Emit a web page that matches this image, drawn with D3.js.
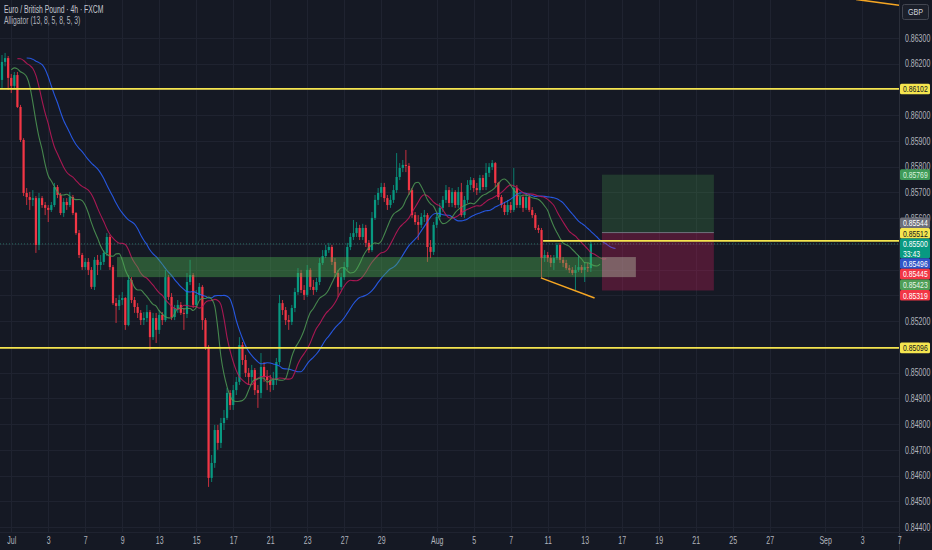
<!DOCTYPE html>
<html>
<head>
<meta charset="utf-8">
<script src="https://cdn.jsdelivr.net/npm/d3@7"></script>
<style>
  body { margin: 0; background: #151924; overflow: hidden; }
  text { font-family: "Liberation Sans", Arial, sans-serif; }
</style>
</head>
<body>
<script>
// EUR/GBP 4h candles, bar 0 = last bars of Jun 30; open of bar n = close of bar n-1
var firstOpen = 0.86137;
var closes = [
  0.86207, 0.86222, 0.86145, 0.86114, 0.86156, 0.86032, 0.85904, 0.85698, 0.85682, 0.85671,
  0.85678, 0.85496, 0.85678, 0.85651, 0.85640, 0.85632, 0.85651, 0.85721, 0.85690, 0.85620,
  0.85663, 0.85651, 0.85682, 0.85620, 0.85542, 0.85457, 0.85410, 0.85430, 0.85399, 0.85333,
  0.85438, 0.85418, 0.85430, 0.85465, 0.85527, 0.85410, 0.85270, 0.85259, 0.85282, 0.85290,
  0.85185, 0.85360, 0.85282, 0.85255, 0.85232, 0.85204, 0.85212, 0.85235, 0.85138, 0.85212,
  0.85166, 0.85224, 0.85204, 0.85371, 0.85294, 0.85216, 0.85251, 0.85263, 0.85232, 0.85228,
  0.85352, 0.85379, 0.85263, 0.85302, 0.85333, 0.85204, 0.85100, 0.84591, 0.84649, 0.84777,
  0.84727, 0.84804, 0.84824, 0.84921, 0.84874, 0.84932, 0.84964, 0.85107, 0.85049, 0.84999,
  0.84983, 0.85010, 0.84932, 0.84921, 0.85022, 0.84983, 0.84971, 0.84952, 0.84971, 0.85041,
  0.85270, 0.85243, 0.85204, 0.85197, 0.85251, 0.85313, 0.85387, 0.85321, 0.85302, 0.85399,
  0.85333, 0.85321, 0.85352, 0.85426, 0.85453, 0.85476, 0.85488, 0.85430, 0.85387, 0.85333,
  0.85371, 0.85410, 0.85488, 0.85527, 0.85542, 0.85562, 0.85527, 0.85562, 0.85504, 0.85476,
  0.85601, 0.85671, 0.85698, 0.85721, 0.85678, 0.85651, 0.85671, 0.85709, 0.85760, 0.85795,
  0.85807, 0.85803, 0.85709, 0.85612, 0.85585, 0.85574, 0.85605, 0.85612, 0.85488, 0.85469,
  0.85574, 0.85605, 0.85640, 0.85671, 0.85709, 0.85659, 0.85702, 0.85651, 0.85702, 0.85612,
  0.85671, 0.85729, 0.85748, 0.85717, 0.85709, 0.85756, 0.85721, 0.85776, 0.85799, 0.85814,
  0.85737, 0.85682, 0.85651, 0.85624, 0.85651, 0.85632, 0.85717, 0.85651, 0.85682, 0.85640,
  0.85682, 0.85632, 0.85612, 0.85562, 0.85554, 0.85445, 0.85457, 0.85445, 0.85426, 0.85445,
  0.85496, 0.85438, 0.85426, 0.85406, 0.85399, 0.85387, 0.85399, 0.85410, 0.85399, 0.85410,
  0.85406, 0.85500
];
var highs = [
  0.86234, 0.86242, 0.86230, 0.86160, 0.86168, 0.86168, 0.86040, 0.85911, 0.85717, 0.85702,
  0.85709, 0.85686, 0.85698, 0.85686, 0.85663, 0.85651, 0.85663, 0.85737, 0.85729, 0.85698,
  0.85678, 0.85678, 0.85702, 0.85690, 0.85624, 0.85554, 0.85465, 0.85445, 0.85445, 0.85410,
  0.85449, 0.85457, 0.85457, 0.85476, 0.85542, 0.85535, 0.85418, 0.85290, 0.85302, 0.85313,
  0.85294, 0.85379, 0.85371, 0.85294, 0.85270, 0.85243, 0.85235, 0.85263, 0.85243, 0.85232,
  0.85232, 0.85243, 0.85235, 0.85399, 0.85379, 0.85309, 0.85263, 0.85282, 0.85274, 0.85251,
  0.85387, 0.85438, 0.85387, 0.85321, 0.85348, 0.85340, 0.85212, 0.85107, 0.84680, 0.84797,
  0.84797, 0.84824, 0.84855, 0.84940, 0.84932, 0.84952, 0.84983, 0.85138, 0.85119, 0.85069,
  0.85018, 0.85030, 0.85018, 0.84952, 0.85076, 0.85041, 0.85010, 0.84991, 0.85003, 0.85057,
  0.85302, 0.85282, 0.85255, 0.85224, 0.85263, 0.85329, 0.85406, 0.85399, 0.85340, 0.85418,
  0.85406, 0.85360, 0.85368, 0.85445, 0.85476, 0.85496, 0.85504, 0.85496, 0.85445, 0.85399,
  0.85387, 0.85430, 0.85504, 0.85542, 0.85593, 0.85585, 0.85574, 0.85578, 0.85574, 0.85515,
  0.85624, 0.85690, 0.85717, 0.85737, 0.85737, 0.85690, 0.85690, 0.85729, 0.85853, 0.85814,
  0.85826, 0.85865, 0.85814, 0.85717, 0.85624, 0.85612, 0.85620, 0.85632, 0.85620, 0.85515,
  0.85585, 0.85620, 0.85659, 0.85686, 0.85729, 0.85721, 0.85717, 0.85709, 0.85721, 0.85737,
  0.85686, 0.85748, 0.85760, 0.85756, 0.85737, 0.85768, 0.85768, 0.85814, 0.85814, 0.85826,
  0.85818, 0.85741, 0.85690, 0.85663, 0.85671, 0.85663, 0.85795, 0.85729, 0.85702, 0.85690,
  0.85698, 0.85690, 0.85643, 0.85620, 0.85574, 0.85562, 0.85476, 0.85469, 0.85457, 0.85457,
  0.85504, 0.85504, 0.85449, 0.85438, 0.85418, 0.85410, 0.85418, 0.85457, 0.85418, 0.85430,
  0.85426, 0.85511
];
var lows = [
  0.86106, 0.86190, 0.86098, 0.86086, 0.86106, 0.86028, 0.85896, 0.85686, 0.85651, 0.85632,
  0.85647, 0.85465, 0.85476, 0.85640, 0.85612, 0.85585, 0.85624, 0.85643, 0.85678, 0.85612,
  0.85605, 0.85632, 0.85643, 0.85612, 0.85535, 0.85445, 0.85399, 0.85399, 0.85379, 0.85325,
  0.85321, 0.85379, 0.85399, 0.85418, 0.85453, 0.85399, 0.85263, 0.85193, 0.85243, 0.85263,
  0.85166, 0.85180, 0.85270, 0.85232, 0.85212, 0.85185, 0.85185, 0.85197, 0.85088, 0.85127,
  0.85115, 0.85150, 0.85185, 0.85197, 0.85282, 0.85204, 0.85204, 0.85232, 0.85224, 0.85166,
  0.85212, 0.85340, 0.85251, 0.85255, 0.85282, 0.85166, 0.85088, 0.84556, 0.84575, 0.84630,
  0.84700, 0.84707, 0.84777, 0.84816, 0.84855, 0.84855, 0.84913, 0.84952, 0.85030, 0.84983,
  0.84952, 0.84964, 0.84913, 0.84863, 0.84901, 0.84964, 0.84932, 0.84925, 0.84932, 0.84952,
  0.85030, 0.85224, 0.85185, 0.85166, 0.85185, 0.85235, 0.85302, 0.85309, 0.85282, 0.85294,
  0.85321, 0.85302, 0.85313, 0.85340, 0.85418, 0.85445, 0.85465, 0.85418, 0.85371, 0.85294,
  0.85321, 0.85360, 0.85399, 0.85476, 0.85515, 0.85527, 0.85515, 0.85515, 0.85488, 0.85465,
  0.85469, 0.85593, 0.85651, 0.85682, 0.85663, 0.85632, 0.85640, 0.85659, 0.85698, 0.85748,
  0.85779, 0.85779, 0.85690, 0.85601, 0.85574, 0.85515, 0.85562, 0.85585, 0.85430, 0.85445,
  0.85457, 0.85562, 0.85593, 0.85624, 0.85659, 0.85643, 0.85643, 0.85640, 0.85640, 0.85605,
  0.85601, 0.85659, 0.85709, 0.85702, 0.85690, 0.85698, 0.85709, 0.85709, 0.85760, 0.85787,
  0.85721, 0.85671, 0.85640, 0.85612, 0.85612, 0.85620, 0.85624, 0.85640, 0.85640, 0.85624,
  0.85632, 0.85624, 0.85601, 0.85554, 0.85542, 0.85368, 0.85430, 0.85430, 0.85410, 0.85399,
  0.85438, 0.85426, 0.85410, 0.85399, 0.85387, 0.85379, 0.85321, 0.85391, 0.85387, 0.85352,
  0.85391, 0.85391
];

// time axis (bar numbers) and labels
var timeTickBars = [3, 15, 27, 39, 51, 63, 75, 87, 99, 111, 123, 141, 153, 165, 177, 189, 201, 213, 225, 237, 249, 267, 279, 291];
var timeTickLabels = ["Jul", "3", "7", "9", "13", "15", "17", "21", "23", "27", "29", "Aug", "5", "7", "11", "13", "17", "19", "21", "25", "27", "Sep", "3", "7"];
var priceTicks = [0.844, 0.845, 0.846, 0.847, 0.848, 0.849, 0.850, 0.851, 0.852, 0.853, 0.854, 0.855, 0.856, 0.857, 0.858, 0.859, 0.860, 0.861, 0.862, 0.863];

// Alligator (jaw, teeth, lips)
var alligatorLength = [13, 8, 5];
var alligatorShift = [8, 5, 3];
var alligatorSeed = [0.86222, 0.86220, 0.86176];

// drawings
var levelPrices = [0.86102, 0.85096];
var rayBar = 175.5, rayPrice = 0.85512;
var zoneBars = [37.3, 205.6], zonePrices = [0.85449, 0.85371];
var positionBars = [194.6, 230.9], positionPrices = [0.85769, 0.85544, 0.85319];
var trendBars = [174.8, 192.2], trendPrices = [0.85368, 0.85290];
var trend2Bars = [277, 292], trend2Prices = [0.86450, 0.86425];
var lastPrice = 0.85500;

// right-axis labels
var axisLabelPrices = [0.86102, 0.85769, 0.85544, 0.85512, 0.85500, 0.85496, 0.85445, 0.85423, 0.85319, 0.85096];
var axisLabelExtra = ["", "", "", "", "33:43", "", "", "", "", ""];
var axisLabelFill = ["#f5e54f", "#3f9a58", "#6b6e79", "#f5e54f", "#089981", "#2f55c8", "#f23645", "#4e9e56", "#f23645", "#f5e54f"];
var axisLabelInk = ["#131722", "#d9f2de", "#ffffff", "#131722", "#ffffff", "#ffffff", "#ffffff", "#e8f5e9", "#ffffff", "#131722"];

var W = 932, H = 550, plotW = 899, plotH = 532;

// squeeze a text horizontally, like the chart's condensed font
function condense(sel, f) {
  sel.each(function() {
    var t = d3.select(this);
    var x0 = +t.attr("x") || 0;
    t.attr("x", x0 / f).attr("transform", "scale(" + f + ",1)");
  });
}

var svg = d3.select("body").append("svg")
    .attr("width", W)
    .attr("height", H);

svg.append("rect").attr("width", W).attr("height", H).attr("fill", "#151924");

var x = d3.scaleLinear().domain([-0.65, 290.95]).range([0, plotW]);
var y = d3.scaleLinear().domain([0.843808, 0.864476]).range([plotH, 0]);

svg.append("clipPath").attr("id", "plot")
  .append("rect").attr("width", plotW).attr("height", plotH);

var plot = svg.append("g").attr("clip-path", "url(#plot)");

// grid
plot.append("g").selectAll("line").data(priceTicks).join("line")
    .attr("x1", 0).attr("x2", plotW)
    .attr("y1", function(d) { return Math.round(y(d)) + 0.5; })
    .attr("y2", function(d) { return Math.round(y(d)) + 0.5; })
    .attr("stroke", "#1f2330");
plot.append("g").selectAll("line").data(timeTickBars).join("line")
    .attr("x1", function(d) { return Math.round(x(d)) + 0.5; })
    .attr("x2", function(d) { return Math.round(x(d)) + 0.5; })
    .attr("y1", 0).attr("y2", plotH)
    .attr("stroke", "#1f2330");

// candles
var candles = closes.map(function(c, i) {
  var o = i === 0 ? firstOpen : closes[i - 1];
  return { i: i, o: o, c: c, h: Math.max(highs[i], o, c), l: Math.min(lows[i], o, c) };
});

// current price line
plot.append("line")
    .attr("x1", 0).attr("x2", plotW)
    .attr("y1", y(lastPrice)).attr("y2", y(lastPrice))
    .attr("stroke", "#2e7f72").attr("stroke-width", 1)
    .attr("stroke-dasharray", "1,2").attr("opacity", 0.8);

var bodyW = (x(1) - x(0)) * 0.72;
var cg = plot.append("g");
cg.selectAll("line").data(candles).join("line")
    .attr("x1", function(d) { return x(d.i); })
    .attr("x2", function(d) { return x(d.i); })
    .attr("y1", function(d) { return y(d.h); })
    .attr("y2", function(d) { return y(d.l); })
    .attr("stroke", function(d) { return d.c >= d.o ? "#089981" : "#f23645"; })
    .attr("stroke-width", 0.8);
cg.selectAll("rect").data(candles).join("rect")
    .attr("x", function(d) { return x(d.i) - bodyW / 2; })
    .attr("width", bodyW)
    .attr("y", function(d) { return y(Math.max(d.o, d.c)); })
    .attr("height", function(d) { return Math.max(1, Math.abs(y(d.o) - y(d.c))); })
    .attr("fill", function(d) { return d.c >= d.o ? "#089981" : "#f23645"; });

// alligator lines: smoothed moving average of hl2, shifted forward
var alligatorColors = ["#2962ff", "#c2185b", "#4f9a55"];
var line = d3.line()
    .x(function(d) { return x(d.bar); })
    .y(function(d) { return y(d.v); })
    .curve(d3.curveMonotoneX);
alligatorLength.forEach(function(n, k) {
  var s = alligatorSeed[k];
  var pts = candles.map(function(d, i) {
    if (i > 0) s = (s * (n - 1) + (d.h + d.l) / 2) / n;
    return { bar: i + alligatorShift[k], v: s };
  });
  plot.append("path")
      .datum(pts)
      .attr("fill", "none")
      .attr("stroke", alligatorColors[k])
      .attr("stroke-width", 1.1)
      .attr("opacity", 0.85)
      .attr("d", line);
});

// long position box
plot.append("rect")
    .attr("x", x(positionBars[0])).attr("width", x(positionBars[1]) - x(positionBars[0]))
    .attr("y", y(positionPrices[0])).attr("height", y(positionPrices[1]) - y(positionPrices[0]))
    .attr("fill", "rgba(76,175,80,0.22)");
plot.append("rect")
    .attr("x", x(positionBars[0])).attr("width", x(positionBars[1]) - x(positionBars[0]))
    .attr("y", y(positionPrices[1])).attr("height", y(positionPrices[2]) - y(positionPrices[1]))
    .attr("fill", "rgba(233,30,99,0.27)");
plot.append("line")
    .attr("x1", x(positionBars[0])).attr("x2", x(positionBars[1]))
    .attr("y1", y(positionPrices[1])).attr("y2", y(positionPrices[1]))
    .attr("stroke", "#6f727d").attr("stroke-width", 1);

// demand zone
plot.append("rect")
    .attr("x", x(zoneBars[0])).attr("width", x(positionBars[0]) - x(zoneBars[0]))
    .attr("y", y(zonePrices[0])).attr("height", y(zonePrices[1]) - y(zonePrices[0]))
    .attr("fill", "rgba(76,175,80,0.42)");
plot.append("rect")
    .attr("x", x(positionBars[0])).attr("width", x(zoneBars[1]) - x(positionBars[0]))
    .attr("y", y(zonePrices[0])).attr("height", y(zonePrices[1]) - y(zonePrices[0]))
    .attr("fill", "rgba(170,165,150,0.5)");

// horizontal levels
plot.selectAll(".level").data(levelPrices).join("line")
    .attr("class", "level")
    .attr("x1", 0).attr("x2", plotW)
    .attr("y1", function(d) { return y(d); }).attr("y2", function(d) { return y(d); })
    .attr("stroke", "#f5e54f").attr("stroke-width", 1.8);
plot.append("line")
    .attr("x1", x(rayBar)).attr("x2", plotW)
    .attr("y1", y(rayPrice)).attr("y2", y(rayPrice))
    .attr("stroke", "#f5e54f").attr("stroke-width", 1.8);

// trend lines
[[trendBars, trendPrices], [trend2Bars, trend2Prices]].forEach(function(t) {
  plot.append("line")
      .attr("x1", x(t[0][0])).attr("y1", y(t[1][0]))
      .attr("x2", x(t[0][1])).attr("y2", y(t[1][1]))
      .attr("stroke", "#f5a623").attr("stroke-width", 1.5);
});

// frame lines
svg.append("line").attr("x1", plotW + 0.5).attr("x2", plotW + 0.5).attr("y1", 0).attr("y2", H)
    .attr("stroke", "#2a2e39");
svg.append("line").attr("x1", 0).attr("x2", W).attr("y1", plotH + 0.5).attr("y2", plotH + 0.5)
    .attr("stroke", "#1f2330");

// price labels on the axis, stacked around the current price label
var fmt = d3.format(".5f");
var labels = axisLabelPrices.map(function(p, i) {
  var h = axisLabelExtra[i] ? 19.6 : 10.6;
  return { p: p, extra: axisLabelExtra[i], fill: axisLabelFill[i], ink: axisLabelInk[i], h: h, top: y(p) - 5.3 };
});
labels.sort(function(a, b) { return a.top - b.top; });
var anchor = labels.findIndex(function(d) { return d.p === lastPrice && d.extra; });
for (var k = anchor + 1; k < labels.length; k++) {
  labels[k].top = Math.max(labels[k].top, labels[k - 1].top + labels[k - 1].h);
}
for (var k = anchor - 1; k >= 0; k--) {
  labels[k].top = Math.min(labels[k].top, labels[k + 1].top - labels[k].h);
}

// price axis; ticks hidden behind a coloured label are left out
var shownTicks = priceTicks.filter(function(t) {
  var a = y(t) - 4, b = y(t) + 4;
  var covered = d3.sum(labels, function(l) {
    return Math.max(0, Math.min(b, l.top + l.h) - Math.max(a, l.top));
  });
  return covered < 4.8;
});
var yAxis = svg.append("g")
    .attr("transform", "translate(" + plotW + ",0)")
    .call(d3.axisRight(y).tickValues(shownTicks).tickFormat(fmt).tickSize(0).tickPadding(6));
yAxis.select(".domain").remove();
yAxis.selectAll("text").attr("fill", "#b2b5be").attr("font-size", 10).attr("font-family", null)
    .call(condense, 0.7);

// time axis
var xAxis = svg.append("g")
    .attr("transform", "translate(0," + plotH + ")")
    .call(d3.axisBottom(x).tickValues(timeTickBars)
      .tickFormat(function(d, i) { return timeTickLabels[i]; }).tickSize(0).tickPadding(5));
xAxis.select(".domain").remove();
xAxis.selectAll("text").attr("fill", "#b2b5be").attr("font-size", 10).attr("font-family", null)
    .call(condense, 0.7);

var lg = svg.append("g").selectAll("g").data(labels).join("g")
    .attr("transform", function(d) { return "translate(" + (plotW + 1) + "," + d.top + ")"; });
lg.append("rect")
    .attr("width", 30).attr("height", function(d) { return d.h; })
    .attr("rx", 1.5)
    .attr("fill", function(d) { return d.fill; });
lg.append("text")
    .attr("x", 3).attr("y", 5.3).attr("dy", "0.35em")
    .attr("fill", function(d) { return d.ink; })
    .attr("font-size", 9.5)
    .text(function(d) { return fmt(d.p); })
    .call(condense, 0.72);
lg.filter(function(d) { return d.extra; }).append("text")
    .attr("x", 3).attr("y", 14.6).attr("dy", "0.35em")
    .attr("fill", function(d) { return d.ink; })
    .attr("font-size", 9.5)
    .text(function(d) { return d.extra; })
    .call(condense, 0.72);

// currency box
svg.append("rect")
    .attr("x", 902.5).attr("y", 4.5).attr("width", 26).attr("height", 15).attr("rx", 2)
    .attr("fill", "#1b1f2a").attr("stroke", "#434651");
svg.append("text")
    .attr("x", 915.5).attr("y", 12).attr("dy", "0.35em").attr("text-anchor", "middle")
    .attr("fill", "#d1d4dc").attr("font-size", 9)
    .text("GBP")
    .call(condense, 0.8);

// legend
svg.append("text")
    .attr("x", 4).attr("y", 10).attr("dy", "0.35em")
    .attr("fill", "#c5c8d0").attr("font-size", 10)
    .text("Euro / British Pound · 4h · FXCM")
    .call(condense, 0.68);
svg.append("text")
    .attr("x", 4).attr("y", 21).attr("dy", "0.35em")
    .attr("fill", "#b2b5be").attr("font-size", 10)
    .text("Alligator (13, 8, 5, 8, 5, 3)")
    .call(condense, 0.68);
</script>
</body>
</html>
